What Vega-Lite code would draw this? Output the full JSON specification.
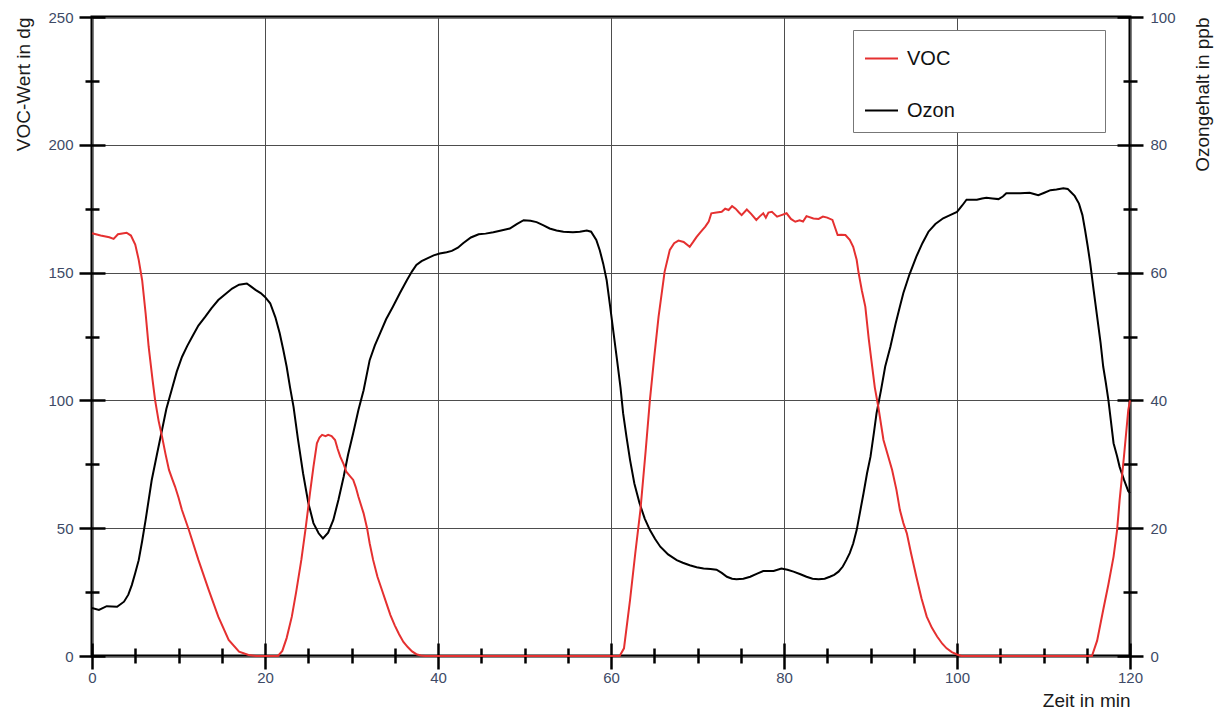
{
  "$schema": "https://vega.github.io/schema/vega-lite/v6.json",
  "width": 1038,
  "height": 639,
  "autosize": "none",
  "padding": {"left": 92, "top": 17, "right": 93, "bottom": 53},
  "background": "white",
  "config": {
    "view": {"stroke": "#000000", "strokeWidth": 3},
    "font": "Liberation Sans",
    "axis": {
      "labelFont": "Liberation Sans",
      "labelFontSize": 15,
      "labelColor": "#3d4a66",
      "titleFont": "Liberation Sans",
      "titleFontSize": 19,
      "titleFontWeight": "normal",
      "titleColor": "#1a1a1a",
      "tickColor": "#000000",
      "tickWidth": 2.5,
      "gridColor": "#4d4d4d",
      "gridWidth": 1,
      "labelFlush": false,
      "labelOverlap": false
    }
  },
  "datasets": {
    "voc": [
      {"t": 0, "voc": 165.4}, {"t": 1, "voc": 164.5}, {"t": 2, "voc": 163.8}, {"t": 2.5, "voc": 163.2}, {"t": 3, "voc": 165},
      {"t": 4, "voc": 165.6}, {"t": 4.5, "voc": 164.5}, {"t": 5, "voc": 161}, {"t": 5.4, "voc": 155}, {"t": 5.8, "voc": 147},
      {"t": 6.2, "voc": 134}, {"t": 6.55, "voc": 121}, {"t": 7, "voc": 108}, {"t": 7.3, "voc": 100}, {"t": 7.7, "voc": 92},
      {"t": 8.1, "voc": 85.8}, {"t": 8.5, "voc": 79}, {"t": 8.9, "voc": 72.8}, {"t": 9.3, "voc": 69}, {"t": 9.6, "voc": 66.3},
      {"t": 10, "voc": 62}, {"t": 10.4, "voc": 57.1}, {"t": 11.2, "voc": 49.3}, {"t": 12.3, "voc": 37.6}, {"t": 13.5, "voc": 25.8},
      {"t": 14.6, "voc": 15.4}, {"t": 15.8, "voc": 6.3}, {"t": 17, "voc": 1.7}, {"t": 18.1, "voc": 0.4}, {"t": 19, "voc": 0},
      {"t": 20, "voc": 0}, {"t": 21.5, "voc": 0}, {"t": 22, "voc": 2}, {"t": 22.5, "voc": 7}, {"t": 23.1, "voc": 15.4},
      {"t": 23.6, "voc": 25}, {"t": 24.2, "voc": 37.6}, {"t": 24.7, "voc": 50}, {"t": 25.2, "voc": 63.7}, {"t": 25.6, "voc": 74},
      {"t": 26, "voc": 83.2}, {"t": 26.3, "voc": 85.5}, {"t": 26.6, "voc": 86.5}, {"t": 27, "voc": 86}, {"t": 27.3, "voc": 86.5},
      {"t": 27.7, "voc": 86}, {"t": 28.1, "voc": 84.5}, {"t": 28.4, "voc": 81}, {"t": 28.7, "voc": 78}, {"t": 29.1, "voc": 75},
      {"t": 29.4, "voc": 72.1}, {"t": 29.8, "voc": 70.5}, {"t": 30.2, "voc": 68.9}, {"t": 30.5, "voc": 66}, {"t": 30.8, "voc": 62.3},
      {"t": 31.4, "voc": 55.8}, {"t": 31.8, "voc": 50}, {"t": 32.1, "voc": 44.1}, {"t": 32.5, "voc": 37.6}, {"t": 33, "voc": 31},
      {"t": 33.5, "voc": 26}, {"t": 34, "voc": 21}, {"t": 34.5, "voc": 16}, {"t": 35, "voc": 12}, {"t": 35.5, "voc": 8.5},
      {"t": 36, "voc": 5.5}, {"t": 36.5, "voc": 3.5}, {"t": 37, "voc": 1.8}, {"t": 37.5, "voc": 0.7}, {"t": 38, "voc": 0.2},
      {"t": 38.5, "voc": 0}, {"t": 45, "voc": 0}, {"t": 50, "voc": 0}, {"t": 55, "voc": 0}, {"t": 60, "voc": 0},
      {"t": 61, "voc": 0}, {"t": 61.5, "voc": 3}, {"t": 62.2, "voc": 21.9}, {"t": 62.8, "voc": 40}, {"t": 63.4, "voc": 57.1},
      {"t": 64, "voc": 80}, {"t": 64.5, "voc": 100.2}, {"t": 65, "voc": 117}, {"t": 65.5, "voc": 132.8}, {"t": 66.2, "voc": 150.4},
      {"t": 66.8, "voc": 158.9}, {"t": 67.3, "voc": 161.5}, {"t": 67.8, "voc": 162.5}, {"t": 68.4, "voc": 162}, {"t": 69.1, "voc": 160.1},
      {"t": 69.5, "voc": 162}, {"t": 69.9, "voc": 164}, {"t": 70.4, "voc": 166}, {"t": 70.9, "voc": 168}, {"t": 71.3, "voc": 170},
      {"t": 71.6, "voc": 173.2}, {"t": 72.2, "voc": 173.5}, {"t": 72.8, "voc": 173.8}, {"t": 73.2, "voc": 175}, {"t": 73.6, "voc": 174.5},
      {"t": 74, "voc": 176}, {"t": 74.4, "voc": 175}, {"t": 74.8, "voc": 173.5}, {"t": 75.1, "voc": 172.5}, {"t": 75.7, "voc": 174.7},
      {"t": 76.2, "voc": 173}, {"t": 76.8, "voc": 170.6}, {"t": 77.2, "voc": 172}, {"t": 77.6, "voc": 173.2}, {"t": 77.9, "voc": 171.5},
      {"t": 78.2, "voc": 173.5}, {"t": 78.6, "voc": 173.8}, {"t": 79.2, "voc": 171.9}, {"t": 79.7, "voc": 172.5}, {"t": 80.3, "voc": 173.2},
      {"t": 80.8, "voc": 171}, {"t": 81.3, "voc": 169.9}, {"t": 81.8, "voc": 170.5}, {"t": 82.2, "voc": 170}, {"t": 82.6, "voc": 172.1},
      {"t": 83.4, "voc": 171.2}, {"t": 84, "voc": 171}, {"t": 84.5, "voc": 171.9}, {"t": 85, "voc": 171.5}, {"t": 85.6, "voc": 170.6},
      {"t": 86.2, "voc": 164.7}, {"t": 86.6, "voc": 164.8}, {"t": 87.1, "voc": 164.7}, {"t": 87.6, "voc": 162.8}, {"t": 88, "voc": 160.1},
      {"t": 88.4, "voc": 155}, {"t": 88.6, "voc": 150.4}, {"t": 89, "voc": 143}, {"t": 89.4, "voc": 136.7}, {"t": 89.8, "voc": 124},
      {"t": 90.1, "voc": 115.8}, {"t": 90.5, "voc": 105}, {"t": 90.9, "voc": 97.5}, {"t": 91.5, "voc": 84.5}, {"t": 92.5, "voc": 72.8},
      {"t": 93, "voc": 65}, {"t": 93.4, "voc": 57.1}, {"t": 93.8, "voc": 52}, {"t": 94.2, "voc": 48}, {"t": 94.7, "voc": 40},
      {"t": 95.3, "voc": 31}, {"t": 95.9, "voc": 22.5}, {"t": 96.5, "voc": 15.4}, {"t": 97.1, "voc": 11}, {"t": 97.7, "voc": 7.6},
      {"t": 98.3, "voc": 4.8}, {"t": 98.8, "voc": 3}, {"t": 99.4, "voc": 1.5}, {"t": 100, "voc": 0.6}, {"t": 100.5, "voc": 0},
      {"t": 105, "voc": 0}, {"t": 110, "voc": 0}, {"t": 115, "voc": 0}, {"t": 115.6, "voc": 0}, {"t": 116.2, "voc": 6},
      {"t": 116.9, "voc": 18}, {"t": 117.5, "voc": 28}, {"t": 118.1, "voc": 38.9}, {"t": 118.5, "voc": 49}, {"t": 118.8, "voc": 61},
      {"t": 119.3, "voc": 78}, {"t": 119.8, "voc": 96.2}, {"t": 120, "voc": 100}
    ],
    "ozon": [
      {"t": 0, "ozon": 7.5}, {"t": 0.8, "ozon": 7.2}, {"t": 1.7, "ozon": 7.8}, {"t": 2.9, "ozon": 7.7}, {"t": 3.7, "ozon": 8.5},
      {"t": 4.2, "ozon": 9.6}, {"t": 4.6, "ozon": 11.1}, {"t": 5, "ozon": 13}, {"t": 5.4, "ozon": 15}, {"t": 5.8, "ozon": 18},
      {"t": 6.2, "ozon": 21.3}, {"t": 6.9, "ozon": 27.5}, {"t": 7.5, "ozon": 31.5}, {"t": 8.1, "ozon": 35.4}, {"t": 8.6, "ozon": 38.7},
      {"t": 9.2, "ozon": 41.6}, {"t": 9.8, "ozon": 44.5}, {"t": 10.4, "ozon": 46.8}, {"t": 11, "ozon": 48.5}, {"t": 11.6, "ozon": 50},
      {"t": 12.3, "ozon": 51.7}, {"t": 13.1, "ozon": 53.1}, {"t": 13.8, "ozon": 54.4}, {"t": 14.6, "ozon": 55.7}, {"t": 15.4, "ozon": 56.6},
      {"t": 16.2, "ozon": 57.5}, {"t": 17, "ozon": 58.1}, {"t": 17.9, "ozon": 58.3}, {"t": 18.4, "ozon": 57.8}, {"t": 18.9, "ozon": 57.3},
      {"t": 19.5, "ozon": 56.8}, {"t": 20, "ozon": 56.2}, {"t": 20.6, "ozon": 55.2}, {"t": 21.2, "ozon": 53}, {"t": 21.7, "ozon": 50.5},
      {"t": 22.1, "ozon": 48}, {"t": 22.5, "ozon": 45.3}, {"t": 22.9, "ozon": 42}, {"t": 23.3, "ozon": 39}, {"t": 23.8, "ozon": 34},
      {"t": 24.4, "ozon": 28.6}, {"t": 25, "ozon": 24}, {"t": 25.6, "ozon": 20.8}, {"t": 26.2, "ozon": 19.2}, {"t": 26.7, "ozon": 18.4},
      {"t": 27.3, "ozon": 19.3}, {"t": 27.9, "ozon": 21.3}, {"t": 28.5, "ozon": 24.5}, {"t": 29.1, "ozon": 28.1}, {"t": 29.6, "ozon": 31.5},
      {"t": 30.2, "ozon": 34.9}, {"t": 30.8, "ozon": 38.5}, {"t": 31.4, "ozon": 41.6}, {"t": 32.1, "ozon": 46.3}, {"t": 32.7, "ozon": 48.6},
      {"t": 33.3, "ozon": 50.5}, {"t": 34, "ozon": 52.7}, {"t": 34.8, "ozon": 54.7}, {"t": 35.6, "ozon": 56.8}, {"t": 36.4, "ozon": 58.8},
      {"t": 37, "ozon": 60.2}, {"t": 37.5, "ozon": 61.2}, {"t": 38.1, "ozon": 61.8}, {"t": 38.7, "ozon": 62.2}, {"t": 39.5, "ozon": 62.7},
      {"t": 40.2, "ozon": 63}, {"t": 41, "ozon": 63.2}, {"t": 41.6, "ozon": 63.4}, {"t": 42.3, "ozon": 63.9}, {"t": 42.9, "ozon": 64.6},
      {"t": 43.8, "ozon": 65.5}, {"t": 44.7, "ozon": 66}, {"t": 45.5, "ozon": 66.1}, {"t": 46.4, "ozon": 66.3}, {"t": 47.3, "ozon": 66.6},
      {"t": 48.3, "ozon": 66.9}, {"t": 49.1, "ozon": 67.6}, {"t": 49.9, "ozon": 68.2}, {"t": 50.7, "ozon": 68.1}, {"t": 51.4, "ozon": 67.9},
      {"t": 52.2, "ozon": 67.4}, {"t": 52.9, "ozon": 66.9}, {"t": 53.7, "ozon": 66.6}, {"t": 54.5, "ozon": 66.4}, {"t": 55.6, "ozon": 66.3},
      {"t": 56.4, "ozon": 66.4}, {"t": 57.2, "ozon": 66.6}, {"t": 57.7, "ozon": 66.4}, {"t": 58.3, "ozon": 65.1}, {"t": 58.7, "ozon": 63.5},
      {"t": 59.1, "ozon": 61.4}, {"t": 59.5, "ozon": 58.8}, {"t": 59.9, "ozon": 54.7}, {"t": 60.3, "ozon": 50.5}, {"t": 60.7, "ozon": 46.3},
      {"t": 61.1, "ozon": 42}, {"t": 61.4, "ozon": 38}, {"t": 61.8, "ozon": 34.2}, {"t": 62.2, "ozon": 30.7}, {"t": 62.7, "ozon": 27},
      {"t": 63.3, "ozon": 23.9}, {"t": 63.9, "ozon": 21.5}, {"t": 64.5, "ozon": 19.7}, {"t": 65.1, "ozon": 18.3}, {"t": 65.7, "ozon": 17.1},
      {"t": 66.6, "ozon": 15.9}, {"t": 67.6, "ozon": 15}, {"t": 68.3, "ozon": 14.6}, {"t": 69.1, "ozon": 14.2}, {"t": 69.9, "ozon": 13.9},
      {"t": 70.7, "ozon": 13.7}, {"t": 71.5, "ozon": 13.6}, {"t": 72.2, "ozon": 13.5}, {"t": 72.8, "ozon": 13}, {"t": 73.4, "ozon": 12.4},
      {"t": 74, "ozon": 12.1}, {"t": 74.5, "ozon": 12}, {"t": 75.3, "ozon": 12.1}, {"t": 76.1, "ozon": 12.4}, {"t": 76.9, "ozon": 12.9},
      {"t": 77.6, "ozon": 13.3}, {"t": 78.2, "ozon": 13.3}, {"t": 78.8, "ozon": 13.3}, {"t": 79.7, "ozon": 13.7}, {"t": 80.4, "ozon": 13.5},
      {"t": 81.1, "ozon": 13.2}, {"t": 81.9, "ozon": 12.8}, {"t": 82.6, "ozon": 12.4}, {"t": 83.3, "ozon": 12.1}, {"t": 84, "ozon": 12},
      {"t": 84.7, "ozon": 12.1}, {"t": 85.3, "ozon": 12.4}, {"t": 85.8, "ozon": 12.7}, {"t": 86.3, "ozon": 13.2}, {"t": 86.8, "ozon": 14},
      {"t": 87.2, "ozon": 15}, {"t": 87.6, "ozon": 16.1}, {"t": 88, "ozon": 17.6}, {"t": 88.4, "ozon": 19.7}, {"t": 88.8, "ozon": 22.6},
      {"t": 89.2, "ozon": 25.5}, {"t": 89.6, "ozon": 28.6}, {"t": 90, "ozon": 31.2}, {"t": 90.4, "ozon": 35}, {"t": 90.7, "ozon": 38},
      {"t": 91.2, "ozon": 41.5}, {"t": 91.7, "ozon": 45.3}, {"t": 92.3, "ozon": 48.4}, {"t": 92.9, "ozon": 52}, {"t": 93.4, "ozon": 54.7},
      {"t": 93.8, "ozon": 56.8}, {"t": 94.5, "ozon": 59.7}, {"t": 95.3, "ozon": 62.5}, {"t": 96, "ozon": 64.6}, {"t": 96.7, "ozon": 66.4},
      {"t": 97.5, "ozon": 67.6}, {"t": 98.4, "ozon": 68.5}, {"t": 99.2, "ozon": 69}, {"t": 100, "ozon": 69.5}, {"t": 100.6, "ozon": 70.5},
      {"t": 101.1, "ozon": 71.4}, {"t": 101.7, "ozon": 71.4}, {"t": 102.3, "ozon": 71.4}, {"t": 102.9, "ozon": 71.6}, {"t": 103.4, "ozon": 71.7},
      {"t": 104.1, "ozon": 71.6}, {"t": 104.8, "ozon": 71.5}, {"t": 105.3, "ozon": 71.9}, {"t": 105.7, "ozon": 72.4}, {"t": 106.5, "ozon": 72.4},
      {"t": 107.3, "ozon": 72.4}, {"t": 108.4, "ozon": 72.5}, {"t": 108.9, "ozon": 72.3}, {"t": 109.4, "ozon": 72.1}, {"t": 110.1, "ozon": 72.5},
      {"t": 110.8, "ozon": 72.9}, {"t": 111.5, "ozon": 73}, {"t": 112.3, "ozon": 73.2}, {"t": 112.8, "ozon": 73.1}, {"t": 113.1, "ozon": 72.7},
      {"t": 113.6, "ozon": 72}, {"t": 114.1, "ozon": 70.8}, {"t": 114.5, "ozon": 69}, {"t": 114.8, "ozon": 66.7}, {"t": 115.1, "ozon": 64.2},
      {"t": 115.4, "ozon": 61.5}, {"t": 115.8, "ozon": 57.2}, {"t": 116.2, "ozon": 53.1}, {"t": 116.6, "ozon": 49}, {"t": 116.9, "ozon": 45.3},
      {"t": 117.2, "ozon": 42.8}, {"t": 117.5, "ozon": 40.1}, {"t": 118.1, "ozon": 33.3}, {"t": 118.5, "ozon": 31.3}, {"t": 118.8, "ozon": 29.6},
      {"t": 119.3, "ozon": 27.6}, {"t": 119.8, "ozon": 25.8}, {"t": 120, "ozon": 25.5}
    ]
  },
  "resolve": {
    "scale": {"x": "independent", "y": "independent"},
    "axis": {"x": "independent", "y": "independent"}
  },
  "layer": [
    {
      "data": {"name": "ozon"},
      "mark": {"type": "line", "strokeWidth": 2},
      "encoding": {
        "x": {"field": "t", "type": "quantitative", "scale": {"domain": [0, 120], "nice": false, "zero": false}, "axis": null},
        "y": {
          "field": "ozon", "type": "quantitative",
          "scale": {"domain": [0, 100], "nice": false},
          "axis": {
            "orient": "right", "values": [0, 20, 40, 60, 80, 100], "ticks": false, "domain": false, "grid": false,
            "labelPadding": 20, "title": "Ozongehalt in ppb", "titleAngle": 270, "titleBaseline": "top",
            "titleAnchor": "end", "titlePadding": 18
          }
        },
        "color": {
          "datum": "Ozon",
          "scale": {"domain": ["VOC", "Ozon"], "range": ["#e53030", "#000000"]},
          "legend": {
            "orient": "none", "legendX": 761, "legendY": 13, "title": null,
            "symbolType": "stroke", "symbolSize": 1089, "symbolStrokeWidth": 2,
            "labelFont": "Liberation Sans", "labelFontSize": 20, "labelColor": "#111111", "labelOffset": 8,
            "labelLimit": 400,
            "labelExpr": "datum.label + '                         \u200b'",
            "padding": 11, "rowPadding": 24, "strokeColor": "#777777", "fillColor": "#ffffff"
          }
        }
      }
    },
    {
      "data": {"name": "voc"},
      "mark": {"type": "line", "strokeWidth": 2},
      "encoding": {
        "x": {
          "field": "t", "type": "quantitative", "scale": {"domain": [0, 120], "nice": false, "zero": false},
          "axis": {
            "orient": "bottom", "values": [0, 20, 40, 60, 80, 100, 120], "ticks": false, "domain": false, "grid": true,
            "labelPadding": 14, "title": "Zeit in min", "titleAnchor": "end", "titlePadding": 6
          }
        },
        "y": {
          "field": "voc", "type": "quantitative",
          "scale": {"domain": [0, 250], "nice": false},
          "axis": {
            "orient": "left", "values": [0, 50, 100, 150, 200, 250], "ticks": false, "domain": false, "grid": true,
            "labelPadding": 19, "title": "VOC-Wert in dg", "titleAnchor": "end", "titlePadding": 14
          }
        },
        "color": {"datum": "VOC"}
      }
    },
    {
      "data": {"name": "voc"},
      "mark": {"type": "line", "strokeOpacity": 0},
      "encoding": {
        "x": {
          "field": "t", "type": "quantitative", "scale": {"domain": [0, 120], "nice": false, "zero": false},
          "axis": {"orient": "bottom", "values": [0, 20, 40, 60, 80, 100, 120], "ticks": true, "tickSize": 26, "offset": -13, "labels": false, "domain": false, "grid": false, "title": null}
        },
        "y": {
          "field": "voc", "type": "quantitative", "scale": {"domain": [0, 250], "nice": false},
          "axis": {"orient": "left", "values": [0, 50, 100, 150, 200, 250], "ticks": true, "tickSize": 26, "offset": -13, "labels": false, "domain": false, "grid": false, "title": null}
        }
      }
    },
    {
      "data": {"name": "voc"},
      "mark": {"type": "line", "strokeOpacity": 0},
      "encoding": {
        "x": {
          "field": "t", "type": "quantitative", "scale": {"domain": [0, 120], "nice": false, "zero": false},
          "axis": {"orient": "bottom", "values": [5, 10, 15, 25, 30, 35, 45, 50, 55, 65, 70, 75, 85, 90, 95, 105, 110, 115], "ticks": true, "tickSize": 15, "offset": -8, "labels": false, "domain": false, "grid": false, "title": null}
        },
        "y": {
          "field": "voc", "type": "quantitative", "scale": {"domain": [0, 250], "nice": false},
          "axis": {"orient": "left", "values": [25, 75, 125, 175, 225], "ticks": true, "tickSize": 14, "offset": -7, "labels": false, "domain": false, "grid": false, "title": null}
        }
      }
    },
    {
      "data": {"name": "ozon"},
      "mark": {"type": "line", "strokeOpacity": 0},
      "encoding": {
        "x": {"field": "t", "type": "quantitative", "scale": {"domain": [0, 120], "nice": false, "zero": false}, "axis": null},
        "y": {
          "field": "ozon", "type": "quantitative", "scale": {"domain": [0, 100], "nice": false},
          "axis": {"orient": "right", "values": [0, 20, 40, 60, 80, 100], "ticks": true, "tickSize": 26, "offset": -13, "labels": false, "domain": false, "grid": false, "title": null}
        }
      }
    },
    {
      "data": {"name": "ozon"},
      "mark": {"type": "line", "strokeOpacity": 0},
      "encoding": {
        "x": {"field": "t", "type": "quantitative", "scale": {"domain": [0, 120], "nice": false, "zero": false}, "axis": null},
        "y": {
          "field": "ozon", "type": "quantitative", "scale": {"domain": [0, 100], "nice": false},
          "axis": {"orient": "right", "values": [10, 30, 50, 70, 90], "ticks": true, "tickSize": 14, "offset": -7, "labels": false, "domain": false, "grid": false, "title": null}
        }
      }
    }
  ]
}
